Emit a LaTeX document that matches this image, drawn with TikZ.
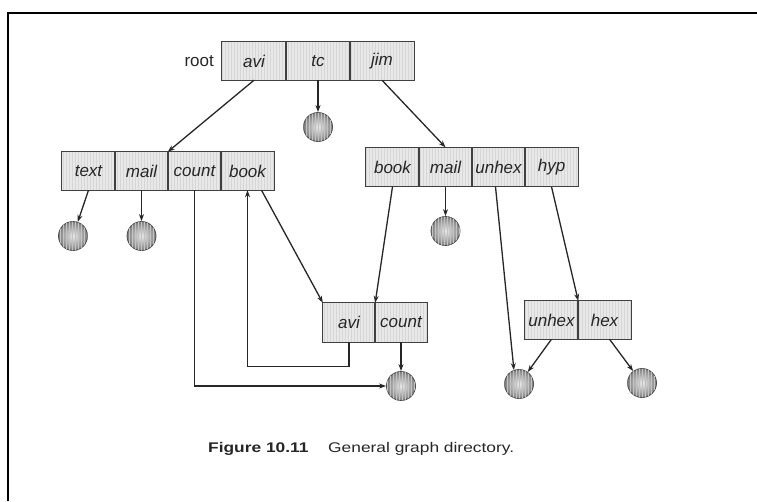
\documentclass[tikz,border=0pt]{standalone}
\usepackage{fontspec}
\setmainfont{Liberation Sans}
\usetikzlibrary{arrows.meta,patterns}
\begin{document}
\begin{tikzpicture}[x=1pt,y=-1pt,
  cell/.style={fill=black!9,
    postaction={pattern=vertical lines, pattern color=black!16},
    minimum height=38pt, inner sep=0pt, text=black!85,
    font=\fontsize{17}{20}\selectfont\itshape},
  cellline/.style={draw=black!75, line width=0.8pt},
  file/.style={circle, minimum size=29pt, inner sep=0pt, draw=black!70,
    line width=0.8pt, inner color=black!8, outer color=black!50,
    postaction={pattern=vertical lines, pattern color=black!24}},
  arr/.style={-{Stealth[length=7pt,width=5pt]}, line width=1.3pt, draw=black!85},
  lbl/.style={inner sep=0pt, text=black!85}]
\useasboundingbox (0,0) rectangle (757,501);
% page frame
\draw[line width=2pt] (8,501) -- (8,13) -- (757,13);

% root directory
\begin{scope}[cell/.append style={minimum width=64pt}]
  \node[cell] (ravi) at (254,61) {avi};
  \node[cell] (rtc)  at (318,61) {tc};
  \node[cell] (rjim) at (382,61) {jim};
\end{scope}
\node[lbl, anchor=east, font=\fontsize{17}{20}\selectfont] (rootlbl) at (214,61) {root};

% avi's directory
\begin{scope}[cell/.append style={minimum width=53pt}]
  \node[cell] (ltext)  at (88.5,171)  {text};
  \node[cell] (lmail)  at (141.5,171) {mail};
  \node[cell] (lcount) at (194.5,171) {count};
  \node[cell] (lbook)  at (247.5,171) {book};
\end{scope}

% jim's directory
\begin{scope}[cell/.append style={minimum width=53pt, minimum height=39pt}]
  \node[cell] (rbook)  at (392.5,167) {book};
  \node[cell] (rmail)  at (445.5,167) {mail};
  \node[cell] (runhex) at (498.5,167) {unhex};
  \node[cell] (rhyp)   at (551.5,167) {hyp};
\end{scope}

% shared book directory
\begin{scope}[cell/.append style={minimum width=52pt, minimum height=39pt}]
  \node[cell] (mavi)   at (349,322.5) {avi};
  \node[cell] (mcount) at (401,322.5) {count};
\end{scope}

% hyp directory
\begin{scope}[cell/.append style={minimum width=53pt}]
  \node[cell] (sunhex) at (551.5,320) {unhex};
  \node[cell] (shex)   at (604.5,320) {hex};
\end{scope}

% cell outlines, drawn over the shading
\foreach \c in {ravi,rtc,rjim,ltext,lmail,lcount,lbook,rbook,rmail,runhex,rhyp,mavi,mcount,sunhex,shex}
  \draw[cellline] (\c.north west) rectangle (\c.south east);

% files
\node[file] (ftc)     at (318,127)   {};
\node[file] (ftext)   at (73,236)    {};
\node[file] (fmail)   at (141.5,236) {};
\node[file] (frmail)  at (445.5,231) {};
\node[file] (fcount)  at (401,386)   {};
\node[file] (funhex)  at (519,384)   {};
\node[file] (fhex)    at (642,383)   {};

% links
\draw[arr] (ravi.south) -- (lcount.north west);
\draw[arr] (rtc.south) -- (ftc.north);
\draw[arr] (rjim.south) -- (rmail.north);
\draw[arr] (ltext.south) -- (ftext);
\draw[arr] (lmail.south) -- (fmail.north);
\draw[arr] (lcount.south) |- (fcount.west);
\draw[arr] (mavi.south) -- ++(0,24) -| (lbook.south);
\draw[arr] ([xshift=14pt]lbook.south) -- (mavi.north west);
\draw[arr] (rbook.south) -- (mavi.north east);
\draw[arr] (mcount.south) -- (fcount.north);
\draw[arr] (rmail.south) -- (frmail.north);
\draw[arr] ([xshift=-3pt]runhex.south) -- (funhex.110);
\draw[arr] (rhyp.south) -- (sunhex.north east);
\draw[arr] (sunhex.south) -- (funhex);
\draw[arr] ([xshift=5pt]shex.south) -- (fhex);

% caption
\node[lbl, anchor=base west] (figno) at (208,452.5)
  {\scalebox{1.24}[1]{\fontsize{14}{16}\selectfont\bfseries Figure 10.11}};
\node[lbl, anchor=base west] (figtitle) at (328,452.5)
  {\scalebox{1.24}[1]{\fontsize{14}{16}\selectfont General graph directory.}};
\end{tikzpicture}
\end{document}
